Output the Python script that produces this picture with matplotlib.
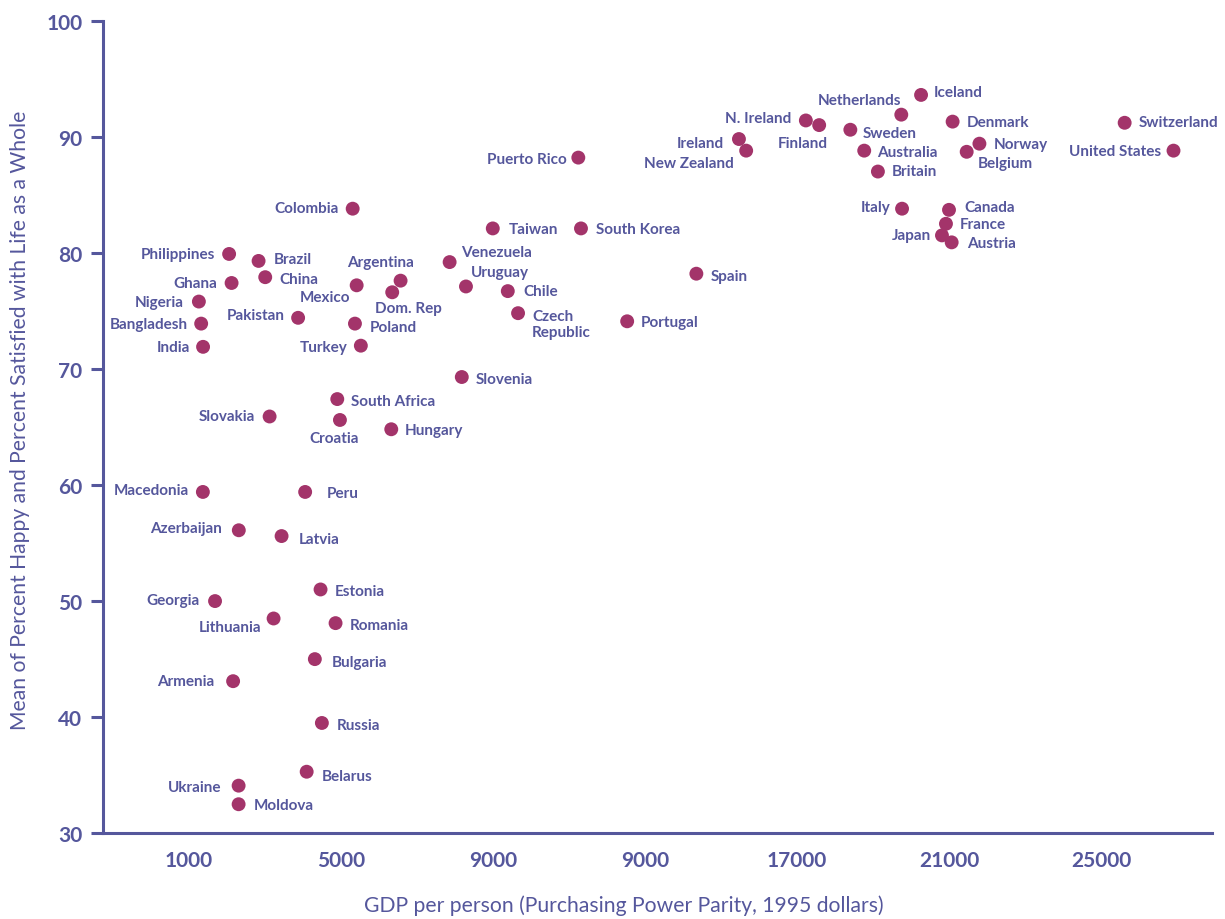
import matplotlib
matplotlib.use("Agg")
import matplotlib.pyplot as plt

# country data: GDP per person (PPP, 1995 $) and mean % happy / satisfied
countries = ['Colombia', 'Philippines', 'Brazil', 'China', 'Ghana', 'Nigeria',
             'Bangladesh', 'India', 'Pakistan', 'Mexico', 'Argentina', 'Dom. Rep',
             'Poland', 'Turkey', 'Venezuela', 'Uruguay', 'Taiwan', 'Chile',
             'Czech\nRepublic', 'South Korea', 'Puerto Rico', 'Portugal', 'Spain',
             'Slovenia', 'Ireland', 'New Zealand', 'N. Ireland', 'Finland',
             'Netherlands', 'Iceland', 'Sweden', 'Australia', 'Britain', 'Denmark',
             'Norway', 'Belgium', 'Switzerland', 'United States', 'Italy', 'Canada',
             'France', 'Japan', 'Austria', 'South Africa', 'Slovakia', 'Croatia',
             'Hungary', 'Macedonia', 'Peru', 'Azerbaijan', 'Latvia', 'Estonia',
             'Georgia', 'Lithuania', 'Romania', 'Bulgaria', 'Armenia', 'Russia',
             'Belarus', 'Ukraine', 'Moldova']
gdp = [5310, 2060, 2835, 3010, 2125, 1265,
       1325, 1375, 3875, 5415, 6570, 6350,
       5370, 5525, 7860, 8290, 8995, 9390,
       9660, 11315, 11245, 12530, 14350,
       8180, 15470, 15660, 17230, 17580,
       19740, 20260, 18400, 18765, 19125, 21090,
       21795, 21460, 25615, 26900, 19760, 20995,
       20915, 20810, 21065, 4905, 3125, 4975,
       6325, 1370, 4060, 2315, 3440, 4465,
       1690, 3230, 4860, 4315, 2165, 4500,
       4100, 2310, 2310]
happy = [83.8, 79.9, 79.3, 77.9, 77.4, 75.8,
         73.9, 71.9, 74.4, 77.2, 77.6, 76.6,
         73.9, 72.0, 79.2, 77.1, 82.1, 76.7,
         74.8, 82.1, 88.2, 74.1, 78.2,
         69.3, 89.8, 88.8, 91.4, 91.0,
         91.9, 93.6, 90.6, 88.8, 87.0, 91.3,
         89.4, 88.7, 91.2, 88.8, 83.8, 83.7,
         82.5, 81.5, 80.9, 67.4, 65.9, 65.6,
         64.8, 59.4, 59.4, 56.1, 55.6, 51.0,
         50.0, 48.5, 48.1, 45.0, 43.1, 39.5,
         35.3, 34.1, 32.5]

xtick_vals = [1000, 5000, 9000, 13000, 17000, 21000, 25000]
xtick_labels = ['1000', '5000', '9000', '9000', '17000', '21000', '25000']
ytick_vals = [30, 40, 50, 60, 70, 80, 90, 100]

# label placement (pixel offset from dot, alignment)
label_pos = {
    'Colombia': (-14, 1, 'right'), 'Philippines': (-14, 0, 'right'),
    'Brazil': (15, 2, 'left'), 'China': (14, -2, 'left'),
    'Ghana': (-14, 0, 'right'), 'Nigeria': (-15, 0, 'right'),
    'Bangladesh': (-13, 0, 'right'), 'India': (-13, 0, 'right'),
    'Pakistan': (-13, 3, 'right'), 'Mexico': (-6, -12, 'right'),
    'Argentina': (-20, 19, 'center'), 'Dom. Rep': (-17, -16, 'left'),
    'Poland': (15, -3, 'left'), 'Turkey': (-13, -1, 'right'),
    'Venezuela': (11, 10, 'left'), 'Uruguay': (5, 14, 'left'),
    'Taiwan': (16, -1, 'left'), 'Chile': (16, 0, 'left'),
    'Czech\nRepublic': (14, -11, 'left'), 'South Korea': (15, -1, 'left'),
    'Puerto Rico': (-12, -1, 'right'), 'Portugal': (14, -1, 'left'),
    'Spain': (14, -2, 'left'), 'Slovenia': (14, -2, 'left'),
    'Ireland': (-15, -4, 'right'), 'New Zealand': (-12, -12, 'right'),
    'N. Ireland': (-15, 2, 'right'), 'Finland': (9, -18, 'right'),
    'Netherlands': (0, 15, 'right'), 'Iceland': (13, 3, 'left'),
    'Sweden': (12, -3, 'left'), 'Australia': (13, -1, 'left'),
    'Britain': (14, 1, 'left'), 'Denmark': (14, 0, 'left'),
    'Norway': (14, 0, 'left'), 'Belgium': (11, -11, 'left'),
    'Switzerland': (14, 1, 'left'), 'United States': (-12, 0, 'right'),
    'Italy': (-12, 2, 'right'), 'Canada': (15, 3, 'left'),
    'France': (14, 0, 'left'), 'Japan': (-11, 0, 'right'),
    'Austria': (15, -1, 'left'), 'South Africa': (14, -2, 'left'),
    'Slovakia': (-15, 0, 'right'), 'Croatia': (-6, -18, 'center'),
    'Hungary': (13, -1, 'left'), 'Macedonia': (-14, 2, 'right'),
    'Peru': (22, -1, 'left'), 'Azerbaijan': (-17, 2, 'right'),
    'Latvia': (17, -3, 'left'), 'Estonia': (14, -2, 'left'),
    'Georgia': (-15, 1, 'right'), 'Lithuania': (-12, -9, 'right'),
    'Romania': (14, -2, 'left'), 'Bulgaria': (17, -3, 'left'),
    'Armenia': (-19, 0, 'right'), 'Russia': (15, -2, 'left'),
    'Belarus': (15, -4, 'left'), 'Ukraine': (-17, -1, 'right'),
    'Moldova': (15, -1, 'left'),
}

text_col = '#55579c'
dot_col = '#a3346a'
plt.rcParams['font.family'] = ['Lato', 'DejaVu Sans']

fig = plt.figure(figsize=(12.25, 9.2), dpi=100)
ax = fig.add_axes([0.0843, 0.0932, 0.9047, 0.8833])

ax.scatter(gdp, happy, s=100, color=dot_col, edgecolors='none', zorder=3)

for name, x, y in zip(countries, gdp, happy):
    dx, dy, ha = label_pos[name]
    ax.annotate(name, (x, y), xytext=(dx, dy), textcoords='offset pixels',
                ha=ha, va='center', fontsize=11, fontweight='bold',
                color=text_col, linespacing=1.2)

ax.set_xlim(-1250, 27900)
ax.set_ylim(30, 100)
ax.set_xticks(xtick_vals)
ax.set_xticklabels(xtick_labels)
ax.set_yticks(ytick_vals)

for s in ['top', 'right']:
    ax.spines[s].set_visible(False)
for s in ['left', 'bottom']:
    ax.spines[s].set_color(text_col)
    ax.spines[s].set_linewidth(2.2)

ax.tick_params(axis='y', length=9, width=2.2, color=text_col,
               labelcolor=text_col, labelsize=15, pad=6)
ax.tick_params(axis='x', length=0, labelcolor=text_col, labelsize=15, pad=12)
for lbl in ax.get_xticklabels() + ax.get_yticklabels():
    lbl.set_fontweight('bold')

# axis titles placed in figure coords
fig.text(0.509, 0.0152, 'GDP per person (Purchasing Power Parity, 1995 dollars)',
         color=text_col, fontsize=15.2, ha='center', va='center')
fig.text(0.0163, 0.543, 'Mean of Percent Happy and Percent Satisfied with Life as a Whole',
         color=text_col, fontsize=15.2, ha='center', va='center', rotation=90)

fig.savefig('out.png', dpi=100)
